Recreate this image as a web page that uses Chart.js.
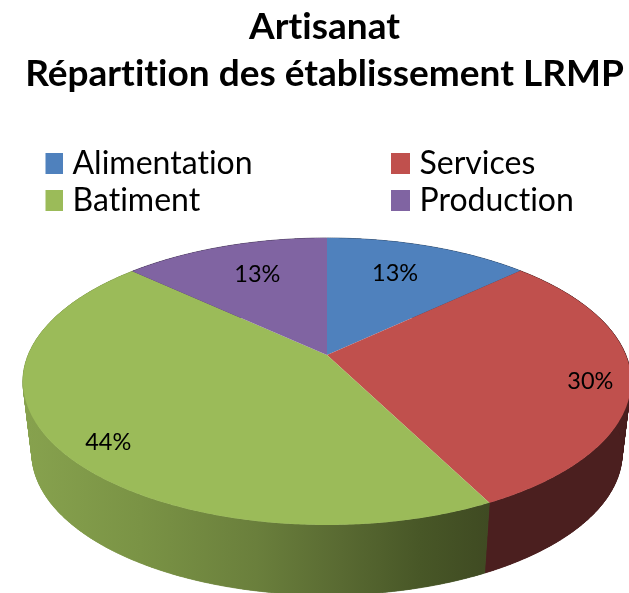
<!DOCTYPE html>
<html lang="fr">
<head>
<meta charset="utf-8">
<title>Artisanat</title>
<script src="https://cdn.jsdelivr.net/npm/chart.js@4/dist/chart.umd.min.js"></script>
<style>
    html, body { margin: 0; padding: 0; background: #fff; overflow: hidden; }
    canvas { display: block; }
</style>
</head>
<body>
<canvas id="graphique" width="629" height="593"></canvas>
<script>
const titre = ['Artisanat', 'Répartition des établissement LRMP'];
const categories = ['Alimentation', 'Services', 'Batiment', 'Production'];
const valeurs = [13, 29.5, 44.4, 13.1];
const couleurs = ['#4F81BD', '#C0504D', '#9BBB59', '#8064A2'];
const ordreLegende = ['Alimentation', 'Batiment', 'Services', 'Production'];

// Perspective of the 3D pie: top face and lower rim
const faceHaut = { cx: 327, cy: 355, a: 298.8, b: 138.6, k: 0.1847 };
const faceBas = { cx: 327, cy: 427, a: 290, b: 137, k: 0.1847 };
const rayonEtiquettes = [0.73, 0.87, 0.85, 0.73];
const decalageEtiquettes = [[-9, 1], [0, 5], [5, 9], [8, 2]];

// theta: angle from 12 o'clock, r: fraction of the radius
function projeter(face, theta, r = 1) {
    const u = r * Math.sin(theta);
    const v = -r * Math.cos(theta);
    const w = 1 - face.k * v;
    return { x: face.cx + face.a * u / w, y: face.cy + face.b * v / w };
}

function styleCote(ctx, index) {
    if (index !== 2) {
        const sombres = ['#2A4565', '#4B1F1F', '', '#443556'];
        return sombres[index];
    }
    const degrade = ctx.createLinearGradient(24, 0, 490, 0);
    degrade.addColorStop(0, '#87A24E');
    degrade.addColorStop(0.25, '#7A9345');
    degrade.addColorStop(0.5, '#6A7F3C');
    degrade.addColorStop(0.68, '#596A32');
    degrade.addColorStop(0.85, '#485727');
    degrade.addColorStop(1, '#3F4A22');
    return degrade;
}

// Legend square as an image, so the gap before the text stays narrow like the original
function carreLegende(couleur) {
    const c = document.createElement('canvas');
    c.width = 19;
    c.height = 21;
    const cc = c.getContext('2d');
    cc.fillStyle = couleur;
    cc.fillRect(0, 0, 19, 21);
    return c;
}

const camembert3D = {
    id: 'camembert3D',
    beforeUpdate(chart) {
        chart.ctx.letterSpacing = '0.01px'; // no "ti" ligature, the original has none
    },
    afterLayout(chart) {
        // two aligned legend columns like the original
        const legende = chart.legend;
        legende.left = 45.5;
        legende.right = chart.width;
        legende.columnSizes[0].width = 342;
    },
    beforeDatasetsDraw(chart) {
        const ctx = chart.ctx;
        const arcs = chart.getDatasetMeta(0).data;
        const pas = Math.PI / 180 / 2;

        // sides first, the top face covers what is hidden
        arcs.forEach((arc, i) => {
            const debut = arc.startAngle + Math.PI / 2;
            const fin = arc.endAngle + Math.PI / 2;
            const style = styleCote(ctx, i);
            ctx.fillStyle = style;
            ctx.strokeStyle = style;
            ctx.lineWidth = 0.7;
            const haut = [];
            const bas = [];
            for (let t = debut; t < fin; t += pas) {
                const t2 = Math.min(t + pas, fin);
                const p1 = projeter(faceHaut, t);
                const p2 = projeter(faceHaut, t2);
                const p3 = projeter(faceBas, t2);
                const p4 = projeter(faceBas, t);
                haut.push(p1, p2);
                bas.push(p4, p3);
                ctx.beginPath();
                ctx.moveTo(p1.x, p1.y);
                ctx.lineTo(p2.x, p2.y);
                ctx.lineTo(p3.x, p3.y);
                ctx.lineTo(p4.x, p4.y);
                ctx.closePath();
                ctx.fill();
                ctx.stroke();
            }
            // one smooth fill over the strips to hide the seams
            ctx.beginPath();
            haut.forEach((p, n) => (n === 0 ? ctx.moveTo(p.x, p.y) : ctx.lineTo(p.x, p.y)));
            bas.reverse().forEach(p => ctx.lineTo(p.x, p.y));
            ctx.closePath();
            ctx.fill();
        });

        arcs.forEach((arc, i) => {
            const debut = arc.startAngle + Math.PI / 2;
            const fin = arc.endAngle + Math.PI / 2;
            ctx.beginPath();
            ctx.moveTo(faceHaut.cx, faceHaut.cy);
            for (let t = debut; t < fin; t += pas) {
                const p = projeter(faceHaut, t);
                ctx.lineTo(p.x, p.y);
            }
            const pf = projeter(faceHaut, fin);
            ctx.lineTo(pf.x, pf.y);
            ctx.closePath();
            ctx.fillStyle = couleurs[i];
            ctx.fill();
        });

        // percentages
        ctx.fillStyle = '#000';
        ctx.font = '23.5px Lato';
        ctx.textAlign = 'center';
        ctx.textBaseline = 'middle';
        arcs.forEach((arc, i) => {
            const milieu = (arc.startAngle + arc.endAngle) / 2 + Math.PI / 2;
            const p = projeter(faceHaut, milieu, rayonEtiquettes[i]);
            const d = decalageEtiquettes[i];
            ctx.fillText(Math.round(valeurs[i]) + '%', p.x + d[0], p.y + d[1]);
        });
        return false;
    }
};

new Chart(document.getElementById('graphique').getContext('2d'), {
    type: 'pie',
    data: {
        labels: categories,
        datasets: [{ data: valeurs, backgroundColor: couleurs, borderWidth: 0 }]
    },
    plugins: [camembert3D],
    options: {
        responsive: false,
        animation: false,
        events: [],
        layout: { padding: { left: 20, bottom: 353 } },
        plugins: {
            tooltip: { enabled: false },
            title: {
                display: true,
                text: titre,
                color: '#000',
                font: { family: 'Lato', size: 37, weight: 'bold', lineHeight: 1.27 },
                padding: { top: 4, bottom: 45 }
            },
            legend: {
                position: 'left',
                align: 'start',
                fullSize: false,
                labels: {
                    color: '#000',
                    font: { family: 'Lato', size: 32, lineHeight: 1 },
                    boxWidth: 6,
                    usePointStyle: true,
                    pointStyleWidth: 6,
                    padding: 5,
                    generateLabels(chart) {
                        const items = Chart.overrides.pie.plugins.legend.labels.generateLabels(chart);
                        items.forEach(item => { item.pointStyle = carreLegende(couleurs[item.index]); });
                        return items;
                    },
                    sort: (a, b) => ordreLegende.indexOf(a.text) - ordreLegende.indexOf(b.text)
                }
            }
        }
    }
});
</script>
</body>
</html>
